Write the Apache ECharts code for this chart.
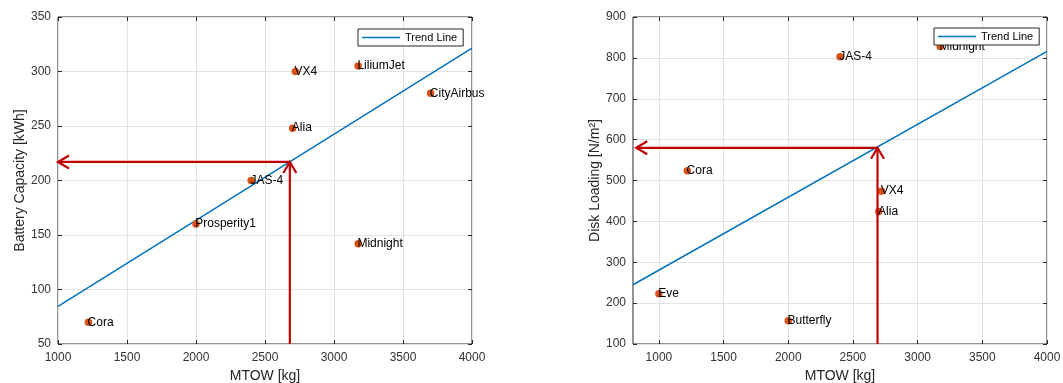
<!DOCTYPE html>
<html>
<head>
<meta charset="utf-8">
<script src="https://cdn.jsdelivr.net/npm/echarts@6/dist/echarts.min.js"></script>
<style>
html,body{margin:0;padding:0;background:#fff;}
#chart{width:1063px;height:383px;}
</style>
</head>
<body>
<div id="chart"></div>
<script>
// ---- Left chart data ----
const leftNames = ['Cora', 'Prosperity1', 'JAS-4', 'Alia', 'VX4', 'LiliumJet', 'CityAirbus', 'Midnight'];
const leftMtow = [1220, 2000, 2400, 2700, 2720, 3175, 3700, 3175];
const leftBattery = [70, 160, 200, 248, 300, 305, 280, 142];
const leftTrendX = [1000, 4000];
const leftTrendY = [84.6, 321.5];
const leftArrowFrom = [[2680, 50], [2680, 217]];
const leftArrowTo = [[2680, 217], [1000, 217]];

// ---- Right chart data ----
const rightNames = ['Eve', 'Cora', 'Butterfly', 'JAS-4', 'Alia', 'VX4', 'Midnight'];
const rightMtow = [1000, 1220, 2000, 2400, 2700, 2720, 3175];
const rightDisk = [223, 524, 157, 803, 424, 474, 828];
const rightTrendX = [800, 4000];
const rightTrendY = [245, 816];
const rightArrowFrom = [[2690, 100], [2690, 580]];
const rightArrowTo = [[2690, 580], [825, 580]];

// ---- Axis tick settings ----
const leftXTicks = { min: 1000, max: 4000, interval: 500 };
const leftYTicks = { min: 50, max: 350, interval: 50 };
const rightXRange = { min: 800, max: 4000 };
const rightXTickValues = [1000, 1500, 2000, 2500, 3000, 3500, 4000];
const rightYTicks = { min: 100, max: 900, interval: 100 };

const FONT = '"Liberation Sans", Arial, Helvetica, sans-serif';
const AXIS_COLOR = '#262626';
const GRID_COLOR = '#e3e3e3';
const POINT_COLOR = '#D95319';
const TREND_COLOR = '#0072BD';
const ARROW_COLOR = '#C00000';

function scatterData(names, xs, ys) {
  return names.map((n, i) => ({ name: n, value: [xs[i], ys[i]] }));
}
function pairs(xs, ys) { return xs.map((x, i) => [x, ys[i]]); }
function arrowData(from, to) { return from.map((f, i) => [f[0], f[1], to[i][0], to[i][1]]); }

function renderArrow(params, api) {
  const p1 = api.coord([api.value(0), api.value(1)]);
  const p2 = api.coord([api.value(2), api.value(3)]);
  const dx = p2[0] - p1[0], dy = p2[1] - p1[1];
  const len = Math.hypot(dx, dy) || 1;
  const ux = dx / len, uy = dy / len;
  const hl = 11, hw = 6.5;
  const bx = p2[0] - ux * hl, by = p2[1] - uy * hl;
  const nx = -uy, ny = ux;
  return {
    type: 'group',
    children: [
      { type: 'line', shape: { x1: p1[0], y1: p1[1], x2: p2[0], y2: p2[1] },
        style: { stroke: ARROW_COLOR, lineWidth: 2.2 } },
      { type: 'polyline', shape: { points: [[bx + nx * hw, by + ny * hw], [p2[0], p2[1]], [bx - nx * hw, by - ny * hw]] },
        style: { stroke: ARROW_COLOR, lineWidth: 2.2, fill: null } }
    ]
  };
}

const plainNum = v => String(v);

function xAxisCfg(gridIndex, range, interval, customTicks, mirror) {
  const cfg = {
    type: 'value', gridIndex: gridIndex,
    min: range.min, max: range.max,
    position: mirror ? 'top' : 'bottom',
    name: mirror ? '' : 'MTOW [kg]', nameLocation: 'middle', nameGap: 24,
    nameTextStyle: { fontFamily: FONT, fontSize: 14, color: AXIS_COLOR },
    axisLine: { show: false },
    axisTick: { show: true, inside: true, length: 4, lineStyle: { color: AXIS_COLOR } },
    axisLabel: { show: !mirror, fontFamily: FONT, fontSize: 12, color: '#333', margin: 8, formatter: plainNum, hideOverlap: false },
    splitLine: { show: !mirror, lineStyle: { color: GRID_COLOR, width: 1 } }
  };
  if (interval) cfg.interval = interval;
  if (customTicks) {
    cfg.axisLabel.customValues = customTicks;
    cfg.axisTick.customValues = customTicks;
  }
  return cfg;
}
function yAxisCfg(gridIndex, ticks, name, mirror) {
  return {
    type: 'value', gridIndex: gridIndex,
    min: ticks.min, max: ticks.max, interval: ticks.interval,
    position: mirror ? 'right' : 'left',
    name: mirror ? '' : name, nameLocation: 'middle', nameGap: 31, nameRotate: 90,
    nameTextStyle: { fontFamily: FONT, fontSize: 14, color: AXIS_COLOR },
    axisLine: { show: false },
    axisTick: { show: true, inside: true, length: 4, lineStyle: { color: AXIS_COLOR } },
    axisLabel: { show: !mirror, fontFamily: FONT, fontSize: 12, color: '#333', margin: 7, formatter: plainNum },
    splitLine: { show: !mirror, lineStyle: { color: GRID_COLOR, width: 1 } }
  };
}
function scatterSeries(idx, names, xs, ys) {
  return {
    type: 'scatter', name: 'pts' + idx, xAxisIndex: idx, yAxisIndex: idx,
    data: scatterData(names, xs, ys), symbol: 'circle', symbolSize: 7.5,
    itemStyle: { color: POINT_COLOR, opacity: 1 },
    label: { show: true, formatter: '{b}', position: [3, 3.75], align: 'left', verticalAlign: 'middle',
      fontFamily: FONT, fontSize: 12, color: '#000' },
    emphasis: { disabled: true }, z: 3
  };
}
function trendSeries(idx, xs, ys) {
  return {
    type: 'line', name: 'Trend Line', xAxisIndex: idx, yAxisIndex: idx,
    data: pairs(xs, ys), symbol: 'none', showSymbol: false,
    lineStyle: { color: TREND_COLOR, width: 1.5 }, itemStyle: { color: TREND_COLOR },
    emphasis: { disabled: true }, z: 2
  };
}
function arrowSeries(idx, from, to) {
  return {
    type: 'custom', name: 'arrow' + idx, xAxisIndex: idx, yAxisIndex: idx,
    data: arrowData(from, to), renderItem: renderArrow,
    encode: { x: [0, 2], y: [1, 3] }, clip: false, z: 4, silent: true
  };
}
function legendCfg(left, top) {
  return {
    data: [{ name: 'Trend Line', icon: 'rect' }], left: left, top: top, orient: 'vertical',
    backgroundColor: '#fff', borderColor: AXIS_COLOR, borderWidth: 1, borderRadius: 0,
    padding: [3, 6, 3, 4], itemWidth: 38, itemHeight: 1.6, itemGap: 4,
    textStyle: { fontFamily: FONT, fontSize: 11, color: '#000' }, selectedMode: false, z: 10
  };
}

const chart = echarts.init(document.getElementById('chart'), null, { renderer: 'canvas' });
chart.setOption({
  backgroundColor: '#fff',
  animation: false,
  grid: [
    { left: 58, right: 591, top: 17, bottom: 39, show: true, borderColor: AXIS_COLOR, borderWidth: 1,
      backgroundColor: 'transparent', containLabel: false, outerBoundsMode: 'none' },
    { left: 633, right: 16, top: 17, bottom: 39, show: true, borderColor: AXIS_COLOR, borderWidth: 1,
      backgroundColor: 'transparent', containLabel: false, outerBoundsMode: 'none' }
  ],
  legend: [legendCfg(358, 29), legendCfg(934, 28)],
  xAxis: [
    xAxisCfg(0, leftXTicks, leftXTicks.interval, null, false),
    xAxisCfg(1, rightXRange, null, rightXTickValues, false),
    xAxisCfg(0, leftXTicks, leftXTicks.interval, null, true),
    xAxisCfg(1, rightXRange, null, rightXTickValues, true)
  ],
  yAxis: [
    yAxisCfg(0, leftYTicks, 'Battery Capacity [kWh]', false),
    yAxisCfg(1, rightYTicks, 'Disk Loading [N/m²]', false),
    yAxisCfg(0, leftYTicks, '', true),
    yAxisCfg(1, rightYTicks, '', true)
  ],
  series: [
    trendSeries(0, leftTrendX, leftTrendY),
    scatterSeries(0, leftNames, leftMtow, leftBattery),
    arrowSeries(0, leftArrowFrom, leftArrowTo),
    trendSeries(1, rightTrendX, rightTrendY),
    scatterSeries(1, rightNames, rightMtow, rightDisk),
    arrowSeries(1, rightArrowFrom, rightArrowTo)
  ]
});
</script>
</body>
</html>
